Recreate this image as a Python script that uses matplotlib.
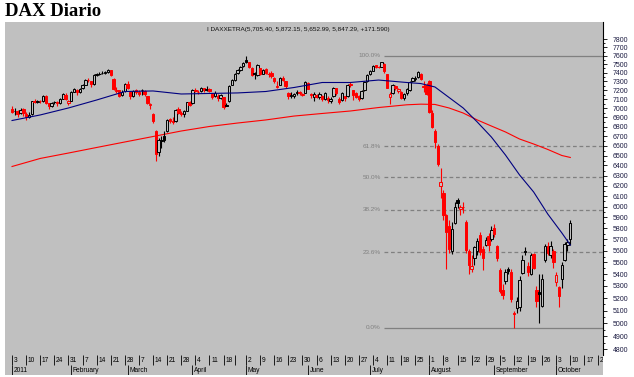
import numpy as np
import pandas as pd
import matplotlib
matplotlib.use('Agg')
import matplotlib.pyplot as plt
from matplotlib.ticker import FixedLocator, FixedFormatter, NullFormatter

# daily candles, Jan 3 2011 .. Oct 10 2011
opens = [6990,6965,6970,6945,6990,6940,6905,6935,7075,7070,7080,7075,7135,7055,7025,7065,7068,7055,7105,7150,7060,
         7085,7185,7205,7180,7220,7265,7320,7300,7270,7370,7385,7395,7400,7405,7430,7330,7190,7200,7150,7190,
         7275,7180,7130,7200,7185,7200,7190,7130,7040,6940,6760,6540,6650,6700,6750,6880,6860,6860,6995,6950,6935,6975,7065,
         7060,7200,7180,7190,7220,7205,7215,7160,7130,7140,7115,7120,7040,7080,7260,7320,7395,7430,7480,
         7545,7520,7460,7400,7370,7450,7385,7440,7390,7400,7340,7240,7260,7345,7300,7170,7130,7140,7180,7175,7150,7170,
         7280,7160,7120,7150,7120,7140,7100,7110,7080,7130,7220,7100,7090,7130,7130,7270,7200,7170,7130,7110,7200,7300,
         7380,7425,7485,7470,7470,7500,7380,7120,7170,7250,7190,7180,7110,7165,7200,7300,7330,7350,7390,7250,7260,
         7300,6950,6760,6600,6200,6130,5920,5820,5600,5850,6060,5980,6000,5860,5600,5440,5540,5600,5740,5620,5650,5730,5700,
         5800,5640,5430,5270,5340,5440,5420,5080,5120,5130,5410,5600,5465,5400,5570,5270,5250,5140,5520,5640,5560,5600,
         5330,5290,5360,5520,5650,5705.40]
highs = [7030,7000,6985,7000,7000,6960,6960,7085,7100,7095,7095,7150,7145,7060,7070,7080,7075,7115,7165,7165,7095,
         7190,7225,7215,7225,7270,7330,7335,7310,7380,7395,7405,7415,7420,7445,7435,7340,7235,7205,7200,7280,
         7300,7190,7200,7215,7200,7215,7200,7140,7060,6950,6770,6680,6700,6760,6880,6895,6910,6990,7010,6975,6980,7070,7080,
         7210,7225,7200,7240,7230,7245,7230,7165,7190,7160,7160,7125,7060,7260,7330,7400,7440,7480,7520,
         7600,7530,7470,7410,7500,7460,7440,7450,7410,7420,7350,7300,7350,7360,7310,7175,7180,7170,7200,7190,7170,7300,
         7290,7170,7175,7160,7180,7145,7180,7130,7120,7240,7230,7120,7180,7140,7270,7290,7205,7180,7150,7200,7300,7380,
         7430,7490,7495,7480,7530,7510,7390,7180,7270,7260,7230,7190,7170,7220,7300,7350,7360,7420,7400,7300,7280,
         7320,6980,6780,6620,6370,6160,5930,5880,5860,6040,6080,6020,6040,5880,5620,5560,5640,5710,5770,5640,5720,5760,5820,
         5840,5650,5450,5320,5440,5460,5440,5100,5210,5380,5560,5630,5500,5580,5580,5300,5400,5400,5660,5680,5690,5620,
         5420,5300,5500,5680,5700,5872.15]
lows = [6950,6930,6900,6935,6920,6870,6895,6930,7060,7055,7060,7070,7050,6990,7015,7045,7030,7050,7100,7090,7040,
        7080,7175,7150,7170,7215,7260,7290,7240,7265,7365,7370,7385,7390,7400,7360,7200,7170,7120,7130,7185,
        7215,7100,7125,7160,7130,7150,7140,7050,6990,6840,6447,6500,6580,6640,6740,6840,6830,6850,6940,6920,6905,6970,7025,
        7050,7180,7160,7185,7175,7195,7180,7100,7125,7080,7105,6990,7020,7070,7255,7310,7380,7425,7470,
        7510,7450,7360,7330,7360,7370,7380,7380,7350,7340,7280,7220,7255,7300,7230,7100,7110,7110,7150,7150,7140,7165,
        7210,7110,7080,7110,7100,7080,7090,7060,7060,7125,7150,7050,7080,7080,7125,7240,7090,7110,7085,7100,7195,7290,
        7370,7420,7460,7450,7465,7400,7220,7050,7160,7200,7170,7100,7095,7150,7190,7290,7310,7345,7320,7180,7150,
        6950,6790,6580,6390,6080,5880,5440,5580,5570,5840,5990,5920,5940,5580,5400,5420,5480,5560,5560,5430,5640,5600,5690,
        5720,5510,5240,5190,5320,5400,5170,4966,5080,5100,5400,5560,5380,5390,5440,5130,5000,5130,5500,5560,5540,5450,
        5300,5130,5280,5510,5600,5652.99]
closes = [6960,6975,6940,6985,6950,6900,6930,7080,7070,7078,7075,7140,7060,7020,7060,7068,7055,7105,7160,7100,7078,
          7185,7215,7175,7215,7265,7322,7315,7275,7370,7385,7390,7400,7405,7430,7370,7215,7200,7140,7185,7272,
          7225,7130,7190,7178,7160,7198,7155,7062,7044,6866,6514,6657,6662,6664,6876,6867,6850,6980,6946,6939,6970,7064,7041,
          7200,7190,7180,7225,7200,7217,7190,7120,7170,7110,7150,7010,7030,7250,7320,7390,7430,7470,7514,
          7527,7467,7372,7390,7492,7380,7430,7400,7387,7360,7300,7252,7342,7312,7249,7130,7151,7160,7167,7164,7158,7294,
          7217,7152,7160,7120,7160,7100,7170,7090,7100,7227,7165,7070,7165,7115,7265,7255,7150,7120,7100,7190,7290,7376,
          7419,7480,7470,7465,7523,7420,7230,7158,7257,7220,7210,7110,7160,7210,7290,7340,7345,7410,7330,7240,7158,
          6954,6797,6640,6415,6236,5923,5770,5613,5798,5998,6035,5995,5994,5603,5480,5470,5630,5690,5590,5537,5696,5650,5785,
          5750,5541,5260,5225,5420,5425,5190,5072,5175,5350,5524,5590,5420,5560,5455,5180,5230,5360,5640,5580,5640,5502,
          5390,5220,5480,5660,5675.70,5847.29]

# moving averages read at trading-day positions
ma_days = [0,10,20,30,40,50,60,70,80,90,100,110,120,130,140,145,150,155,160,165,170,175,180,185,190,195,198]
ma_short = [6867,6927,7003,7091,7186,7192,7158,7164,7170,7186,7231,7288,7288,7316,7288,7276,7237,7119,7003,
            6851,6692,6506,6306,6140,5932,5759,5651]
ma_long = [6390,6471,6526,6583,6640,6697,6755,6803,6840,6873,6915,6943,6970,7008,7038,7045,7042,7003,6948,
           6873,6808,6745,6671,6619,6563,6501,6481]

# fibonacci retracement
fib_high = 7600
fib_low = 4966
fib_pcts = [100.0, 61.8, 50.0, 38.2, 23.6, 0.0]
fib_start = 132

month_names = ['2011', 'February', 'March', 'April', 'May', 'June', 'July',
               'August', 'September', 'October']
header = 'I DAXXETRA(5,705.40, 5,872.15, 5,652.99, 5,847.29, +171.590)'

# trading calendar (Xetra closed Good Friday / Easter Monday)
dates = pd.bdate_range('2011-01-03', '2011-10-31')
dates = dates[~dates.isin(pd.to_datetime(['2011-04-22', '2011-04-25']))]

bg = '#c0c0c0'
W, H = 634, 377
xmin, xmax = -2.5, 209.6

fig = plt.figure(figsize=(W / 100, H / 100), dpi=100)
ax = fig.add_axes([5 / W, 1 - 355 / H, 598 / W, 333 / H], facecolor=bg)
ax2 = fig.add_axes([5 / W, 1 - 375 / H, 598 / W, 20 / H], facecolor=bg)

ax.set_yscale('log')
ax.set_xlim(xmin, xmax)
ax.set_ylim(4757, 8012)

# candles
x = np.arange(len(closes))
o = np.array(opens); h = np.array(highs); l = np.array(lows); c = np.array(closes)
prev = np.concatenate([[o[0]], c[:-1]])
cols = np.where(c < prev, '#ff0000', '#000000')
hollow = c >= o
ax.vlines(x, l, h, colors=cols, lw=0.8, zorder=3)
bot = np.minimum(o, c)
top = np.maximum(o, c)
top = np.where(top - bot < 2, bot + 2, top)
for i in range(len(x)):
    fc = bg if hollow[i] else cols[i]
    ax.bar(x[i], top[i] - bot[i], bottom=bot[i], width=0.85, facecolor=fc,
           edgecolor=cols[i], lw=0.7, zorder=4)

# moving averages
ax.plot(ma_days, ma_long, color='#ff0000', lw=0.8, zorder=2)
ax.plot(ma_days, ma_short, color='#000080', lw=0.8, zorder=5)

# fibonacci lines
for p in fib_pcts:
    lvl = fib_low + p / 100 * (fib_high - fib_low)
    ls = '-' if p in (0.0, 100.0) else (0, (3, 2.2))
    ax.hlines(lvl, fib_start, xmax, colors='#808080', lw=0.9, linestyles=ls, zorder=1)
    ax.text(fib_start - 1.2, lvl, f'{p:.1f}%', ha='right', va='center',
            fontsize=4.6, color='#808080', family='Liberation Sans')

# right price axis
ax.yaxis.tick_right()
ticks = list(range(4800, 7801, 100))
ax.yaxis.set_major_locator(FixedLocator(ticks))
ax.yaxis.set_major_formatter(FixedFormatter([str(t) for t in ticks]))
ax.yaxis.set_minor_locator(FixedLocator(list(range(4850, 7800, 100))))
ax.yaxis.set_minor_formatter(NullFormatter())
ax.tick_params(axis='y', which='major', direction='out', length=3, width=0.6,
               labelsize=5, pad=4, colors='#000000', labelcolor='#1a1a40')
ax.tick_params(axis='y', which='minor', direction='out', length=1.5, width=0.6)
for lab in ax.get_yticklabels():
    lab.set_family('Liberation Sans')
ax.set_xticks([])
for s in ['top', 'left', 'bottom']:
    ax.spines[s].set_visible(False)
ax.spines['right'].set_linewidth(0.8)

# date strip: weeks on top row, months below
ax2.set_xlim(xmin, xmax)
ax2.set_ylim(0, 2)
ax2.set_xticks([]); ax2.set_yticks([])
for s in ax2.spines.values():
    s.set_visible(False)

week_idx, month_idx = [0], [0]
for i in range(1, len(dates)):
    if dates[i].weekday() < dates[i - 1].weekday():
        week_idx.append(i)
    if dates[i].month != dates[i - 1].month:
        month_idx.append(i)

ax2.vlines(week_idx, 1, 2, colors='k', lw=0.6)
for i in week_idx:
    if dates[i].weekday() == 0:
        ax2.text(i + 0.6, 1.5, str(dates[i].day), ha='left', va='center',
                 fontsize=4.8, family='Liberation Sans', clip_on=True)
ax2.vlines(month_idx, 0, 1, colors='k', lw=0.6)
for i, name in zip(month_idx, month_names):
    ax2.text(i + 0.6, 0.5, name, ha='left', va='center', fontsize=4.8,
             family='Liberation Sans', clip_on=True)

fig.text(5 / W, 1 - 11 / H, 'DAX Diario', ha='left', va='center', fontsize=13.5,
         family='Liberation Serif', weight='bold')
fig.text(207 / W, 1 - 29 / H, header, ha='left', va='center', fontsize=4.6,
         family='Liberation Sans', color='#101010')

fig.savefig('out.png', dpi=100, facecolor='white')
